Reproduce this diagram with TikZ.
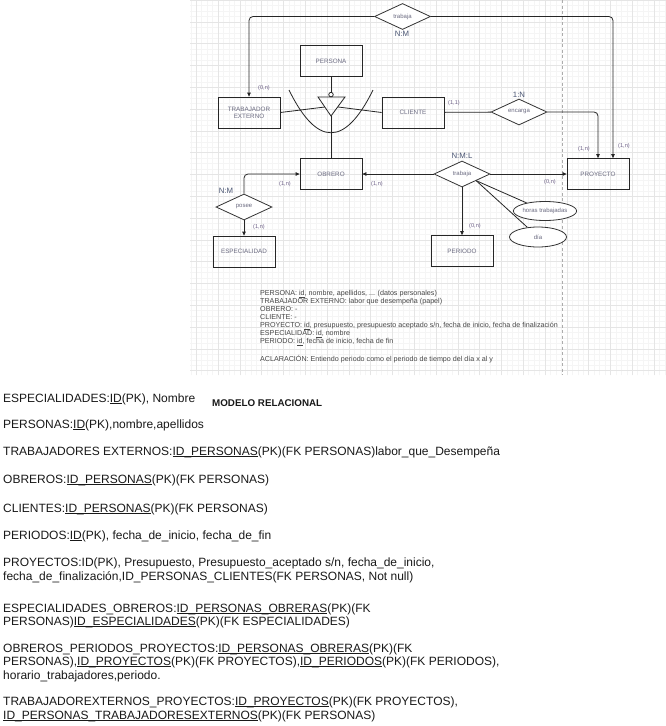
\documentclass[tikz,border=0pt]{standalone}
\usepackage{fontspec}
\setmainfont{Liberation Sans}
\usepackage{tikz}
\usetikzlibrary{positioning,shapes.geometric,arrows.meta}

\definecolor{txtent}{HTML}{6A6A80}
\definecolor{txtcard}{HTML}{6C5F86}
\definecolor{txttipo}{HTML}{4A5573}
\newcommand{\pk}[1]{\underline{\smash{#1}}}

\begin{document}
\begin{tikzpicture}[x=1pt, y=-1pt, >={Triangle[length=4pt,width=3.6pt]},
	entidad/.style={draw=black!85, line width=0.8pt, minimum width=62pt, minimum height=31pt, inner sep=0pt, align=center, text=txtent, font=\fontsize{6.3}{7.2}\selectfont},
	relacion/.style={draw=black!80, line width=0.8pt, diamond, aspect=2, minimum width=56pt, minimum height=26pt, inner sep=0pt, fill=white, text=txtent, font=\fontsize{6}{7}\selectfont},
	atributo/.style={draw=black!80, line width=0.8pt, ellipse, inner sep=0pt, fill=white, text=txtent, font=\fontsize{6}{7}\selectfont},
	linea/.style={draw=black!85, line width=0.8pt},
	card/.style={inner sep=0pt, text=txtcard, font=\fontsize{5.6}{6.5}\selectfont},
	tipo/.style={inner sep=0pt, text=txttipo, font=\fontsize{7.8}{9}\selectfont},
	fila/.style={anchor=base west, inner sep=0pt, text=black!90, font=\fontsize{12}{14}\selectfont}]
	\useasboundingbox (0,0) rectangle (666,726);
	\fill[white] (0,0) rectangle (666,726);
	
	% cuadricula del editor
	\draw[gray!8, line width=0.4pt, step=5.45pt] (190,375) grid (666,0);
	\draw[gray!20, line width=0.5pt, step=21.8pt] (190,375) grid (666,0);
	\draw[gray!65, line width=0.6pt, dash pattern=on 3pt off 2.5pt] (562,0) -- (562,375);
	
	% entidades
	\node[entidad] (persona) at (331,61) {PERSONA};
	\node[entidad] (trabext) at (249,112.5) {TRABAJADOR\\EXTERNO};
	\node[entidad] (cliente) at (413,112.5) {CLIENTE};
	\node[entidad] (obrero) at (331,174) {OBRERO};
	\node[entidad] (proyecto) at (598,174) {PROYECTO};
	\node[entidad] (especialidad) at (244,251.5) {ESPECIALIDAD};
	\node[entidad] (periodo) at (462,251) {PERIODO};
	
	% relaciones y atributos
	\node[relacion] (trabajaA) at (402.5,16.5) {trabaja};
	\node[relacion] (encarga) at (519,112) {encarga};
	\node[relacion] (posee) at (244,207) {posee};
	\node[relacion] (trabajaB) at (462,174) {trabaja};
	\node[atributo, minimum width=60pt, minimum height=19pt] (horas) at (545,211) {horas trabajadas};
	\node[atributo, minimum width=57pt, minimum height=20pt] (dia) at (538,237) {día};
	
	% jerarquia
	\coordinate (isaI) at (318,97);
	\coordinate (isaD) at (345,97);
	\coordinate (isaV) at (331,116);
	\coordinate (isaEi) at (324.8,107);
	\coordinate (isaEd) at (338.2,107);
	\draw[linea] (isaI) -- (isaD) -- (isaV) -- cycle;
	\node[circle, draw=black!85, line width=0.8pt, fill=white, minimum size=4.5pt, inner sep=0pt] (isaO) at (331,94.6) {};
	\draw[linea] (persona) -- (isaO);
	\draw[linea] (isaV) -- (obrero);
	\draw[linea] (trabext.east) -- (isaEi);
	\draw[linea] (isaEd) -- (cliente.west);
	\draw[linea] (289,90) .. controls (317,147) and (345,147) .. (373,90);
	
	% conectores
	\draw[linea, ->, rounded corners=4pt] (trabajaA.west) -| (trabext.north);
	\draw[linea, ->, rounded corners=4pt] (trabajaA.east) -| ([xshift=15pt]proyecto.north);
	\draw[linea] (cliente) -- (encarga);
	\draw[linea, ->, rounded corners=4pt] (encarga.east) -| (proyecto.north);
	\draw[linea, ->, rounded corners=4pt] (posee.north) |- (obrero.west);
	\draw[linea, ->] (posee) -- (especialidad);
	\draw[linea, ->] (trabajaB) -- (obrero);
	\draw[linea, ->] (trabajaB) -- (proyecto);
	\draw[linea, ->] (trabajaB) -- (periodo);
	\draw[linea] (trabajaB.south east) -- (horas);
	\draw[linea] (trabajaB.south east) -- (dia);
	
	% cardinalidades
	\node[tipo] (tA) at (402,34) {N:M};
	\node[card] (cTE) at (264,88) {(0,n)};
	\node[card] (cCl) at (454,103) {(1,1)};
	\node[tipo] (tEn) at (519,95) {1:N};
	\node[card] (cP1) at (584,149) {(1,n)};
	\node[card] (cP2) at (624,146) {(1,n)};
	\node[card] (cO1) at (285,184) {(1,n)};
	\node[card] (cO2) at (377,184) {(1,n)};
	\node[tipo] (tPo) at (226,191) {N:M};
	\node[card] (cEs) at (259,227) {(1,n)};
	\node[tipo] (tTr) at (462,156) {N:M:L};
	\node[card] (cPr) at (550,182) {(0,n)};
	\node[card] (cPe) at (475,226) {(0,n)};
	
	\node[anchor=north west, inner sep=0pt, align=left, text=black!72, font=\fontsize{7.15}{8.1}\selectfont] (notas) at (260,290)
	{PERSONA: \underline{id}, nombre, apellidos, ... (datos personales)\\
	TRABAJADOR EXTERNO: labor que desempeña (papel)\\
	OBRERO: -\\
	CLIENTE: -\\
	PROYECTO: \underline{id}, presupuesto, presupuesto aceptado s/n, fecha de inicio, fecha de finalización\\
	ESPECIALIDAD: \underline{id}, nombre\\
	PERIODO: \underline{id}, fecha de inicio, fecha de fin\\[8.1pt]
	ACLARACIÓN: Entiendo periodo como el periodo de tiempo del día x al y};
	
	% modelo relacional
	\node[fila, font=\fontsize{9.8}{12}\selectfont\bfseries] (titulo) at (212,406) {MODELO RELACIONAL};
	\foreach \yb/\txt in {
		402/{ESPECIALIDADES:\pk{ID}(PK), Nombre},
		428/{PERSONAS:\pk{ID}(PK),nombre,apellidos},
		455/{TRABAJADORES EXTERNOS:\pk{ID\_PERSONAS}(PK)(FK PERSONAS)labor\_que\_Desempeña},
		483/{OBREROS:\pk{ID\_PERSONAS}(PK)(FK PERSONAS)},
		512/{CLIENTES:\pk{ID\_PERSONAS}(PK)(FK PERSONAS)},
		539/{PERIODOS:\pk{ID}(PK), fecha\_de\_inicio, fecha\_de\_fin},
		566/{PROYECTOS:ID(PK), Presupuesto, Presupuesto\_aceptado s/n, fecha\_de\_inicio,},
		580/{fecha\_de\_finalización,ID\_PERSONAS\_CLIENTES(FK PERSONAS, Not null)},
		612/{ESPECIALIDADES\_OBREROS:\pk{ID\_PERSONAS\_OBRERAS}(PK)(FK},
		625/{PERSONAS)\pk{ID\_ESPECIALIDADES}(PK)(FK ESPECIALIDADES)},
		652/{OBREROS\_PERIODOS\_PROYECTOS:\pk{ID\_PERSONAS\_OBRERAS}(PK)(FK},
		665/{PERSONAS),\pk{ID\_PROYECTOS}(PK)(FK PROYECTOS),\pk{ID\_PERIODOS}(PK)(FK PERIODOS),},
		679/{horario\_trabajadores,periodo.},
		705/{TRABAJADOREXTERNOS\_PROYECTOS:\pk{ID\_PROYECTOS}(PK)(FK PROYECTOS),},
		719/{\pk{ID\_PERSONAS\_TRABAJADORESEXTERNOS}(PK)(FK PERSONAS)}}
		\node[fila] (fila\yb) at (3,\yb) {\txt};
\end{tikzpicture}
\end{document}
